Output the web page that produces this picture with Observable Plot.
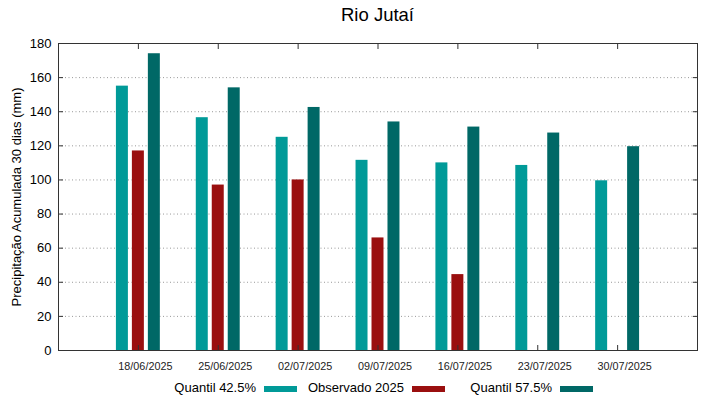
<!DOCTYPE html>
<html><head><meta charset="utf-8">
<script src="https://cdn.jsdelivr.net/npm/d3@7"></script>
<script src="https://cdn.jsdelivr.net/npm/@observablehq/plot@0.6"></script>
<style>
body{margin:0;background:#fff;font-family:"Liberation Sans",Arial,sans-serif;}
#wrap{position:relative;width:719px;height:399px;overflow:hidden;}
#title{position:absolute;top:4px;left:58px;width:639px;text-align:center;font-size:18.5px;color:#000;}
#legend{position:absolute;top:379px;left:156px;height:18px;font-size:13px;color:#000;}
.item{position:absolute;top:0;height:18px;}
.item .t{position:absolute;left:0;width:100px;text-align:right;line-height:18px;white-space:nowrap;}
.item .s{position:absolute;left:108px;top:7px;width:33px;height:6px;}
</style></head>
<body><div id="wrap"><div id="title">Rio Jutaí</div><div id="chart"></div><div id="legend"></div></div>
<script>
const dates = ["18/06/2025","25/06/2025","02/07/2025","09/07/2025","16/07/2025","23/07/2025","30/07/2025"];
const seriesNames = ["Quantil 42.5%","Observado 2025","Quantil 57.5%"];
const seriesColors = ["#009a98","#9a0f0f","#006866"];
const q425 = [155, 136.5, 125, 111.5, 110, 108.5, 99.5];
const obs = [117, 97, 100, 66, 44.5, null, null];
const q575 = [174, 154, 142.5, 134, 131, 127.5, 119.5];
const yTicks = [0,20,40,60,80,100,120,140,160,180];

const offsets = [-0.2, 0, 0.2];
const halfW = 0.075;
const rows = [];
[q425, obs, q575].forEach((arr, s) => arr.forEach((v, i) => {
  if (v != null) rows.push({i, s: seriesNames[s], off: offsets[s], value: v});
}));
const catTicks = dates.map((d, i) => i + 1);

const chart = Plot.plot({
  width: 719, height: 399,
  marginTop: 43, marginBottom: 49, marginLeft: 58, marginRight: 22,
  style: {fontFamily: "Liberation Sans, Arial, sans-serif", background: "#fff", color: "#000"},
  x: {domain: [0, 8]},
  y: {domain: [0, 180]},
  color: {domain: seriesNames, range: seriesColors},
  marks: [
    Plot.gridY(yTicks.slice(1, -1), {stroke: "#999", strokeOpacity: 1, strokeDasharray: "1,2.5", strokeWidth: 1}),
    Plot.rectY(rows, {
      x1: d => d.i + 1 + d.off - halfW,
      x2: d => d.i + 1 + d.off + halfW,
      y1: 0, y2: "value", fill: "s"
    }),
    Plot.axisY(yTicks, {anchor: "left", tickSize: 0, tickPadding: 7, fontSize: 13,
      label: "Precipitação Acumulada 30 dias (mm)", labelAnchor: "center", labelArrow: "none", labelOffset: 47}),
    Plot.axisY(yTicks, {anchor: "left", tickSize: -5, tickFormat: () => "", label: null, stroke: "#333"}),
    Plot.axisY(yTicks, {anchor: "right", tickSize: -5, tickFormat: () => "", label: null, stroke: "#333"}),
    Plot.axisX(catTicks, {anchor: "bottom", tickSize: 0, tickPadding: 12, dx: 7, fontSize: 10.8, fill: "#222",
      tickFormat: i => dates[i - 1], label: null}),
    Plot.axisX(catTicks, {anchor: "bottom", tickSize: -5, tickFormat: () => "", label: null, stroke: "#333"}),
    Plot.axisX(catTicks, {anchor: "top", tickSize: -5, tickFormat: () => "", label: null, stroke: "#333"}),
    Plot.frame({stroke: "#333"})
  ]
});
document.getElementById("chart").appendChild(chart);

const legend = document.getElementById("legend");
seriesNames.forEach((n, k) => {
  const it = document.createElement("div");
  it.className = "item";
  it.style.left = (k * 148) + "px";
  it.innerHTML = `<span class="t">${n}</span><span class="s" style="background:${seriesColors[k]}"></span>`;
  legend.appendChild(it);
});
</script></body></html>
